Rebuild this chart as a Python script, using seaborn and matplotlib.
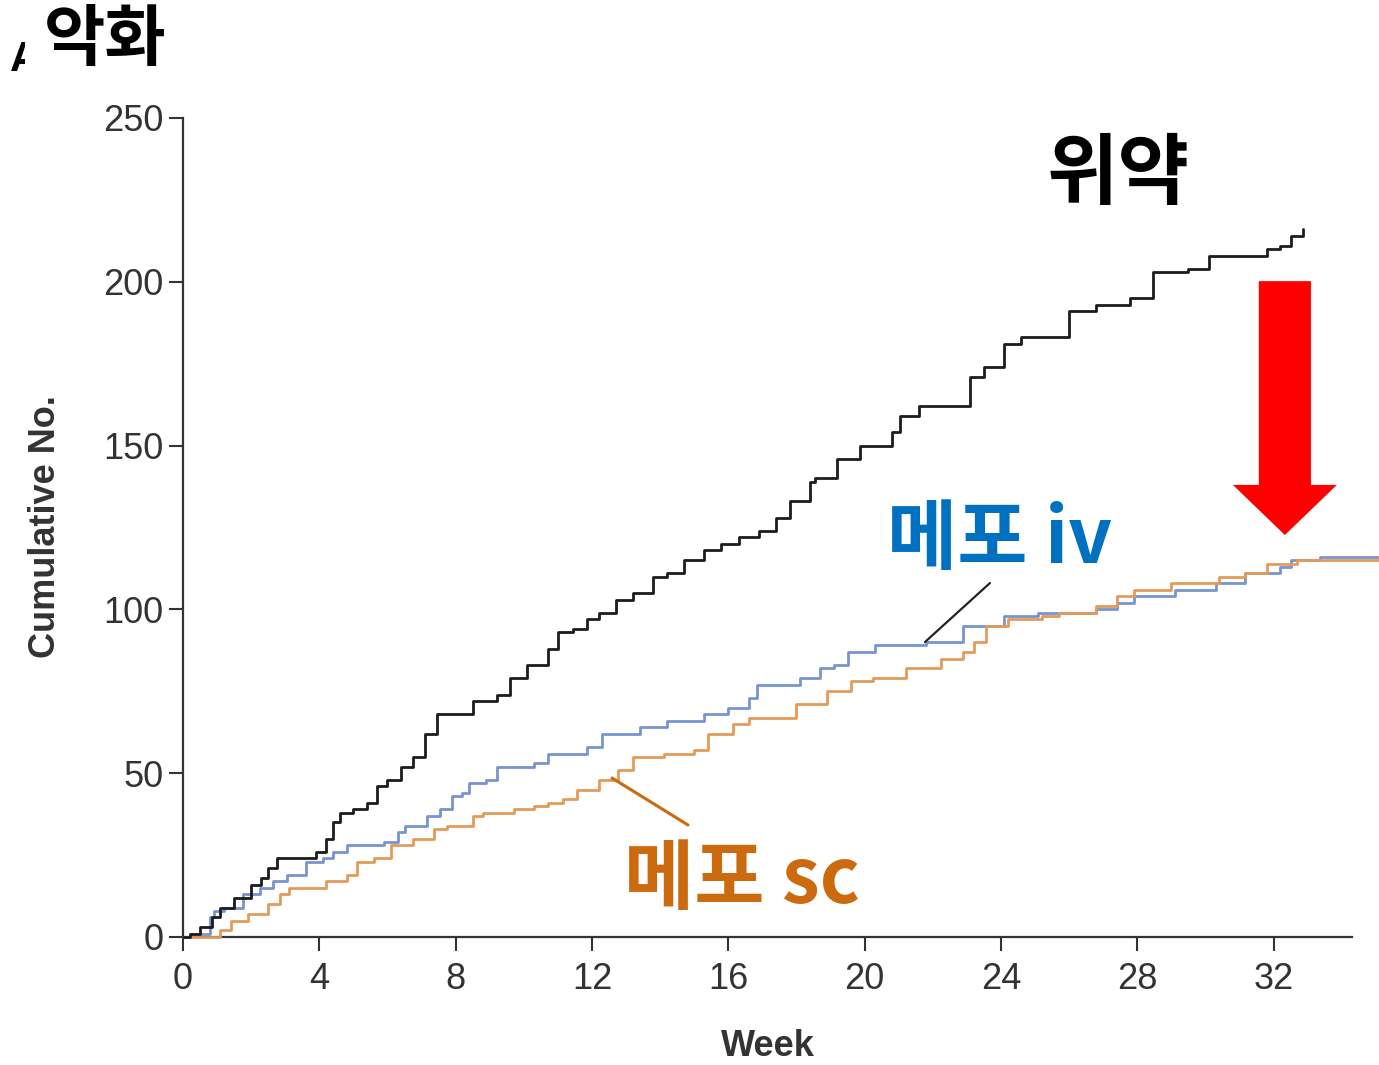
import numpy as np
import pandas as pd
import matplotlib
matplotlib.use("Agg")
import matplotlib.pyplot as plt
import seaborn as sns
from matplotlib import font_manager as fm
from matplotlib.patches import Rectangle, FancyArrow
from matplotlib.lines import Line2D

# ---------------- data ----------------
black_week = [0, 0.2, 0.5, 0.85, 1.1, 1.5, 1.7, 2.0, 2.3, 2.5, 2.75, 3.6, 3.9, 4.2, 4.4, 4.6, 5.0, 5.4, 5.7, 6.0,
              6.4, 6.75, 7.1, 7.45, 8.1, 8.5, 9.2, 9.6, 10.1, 10.7, 11.0, 11.45, 11.85, 12.2, 12.7, 13.2, 13.8, 14.2,
              14.7, 15.3, 15.8, 16.3, 16.9, 17.4, 17.8, 18.4, 18.55, 19.2, 19.85, 20.8, 21.05, 21.6, 22.2, 23.1, 23.5,
              24.1, 24.6, 25.3, 26.0, 26.8, 27.8, 28.45, 29.5, 30.1, 31.8, 32.2, 32.5, 32.85]
black_n = [0, 1, 3, 6, 9, 12, 12, 16, 18, 21, 24, 24, 26, 30, 35, 38, 39, 41, 46, 48,
           52, 55, 62, 68, 68, 72, 74, 79, 83, 88, 93, 94, 97, 99, 103, 105, 110, 111,
           115, 118, 120, 122, 124, 128, 133, 139, 140, 146, 150, 154, 159, 162, 162, 171, 174,
           181, 183, 183, 191, 193, 195, 203, 204, 208, 210, 211, 214, 216]

blue_week = [0, 0.2, 0.8, 0.9, 1.2, 1.75, 2.26, 2.65, 3.05, 3.6, 4.1, 4.4, 4.8, 5.9, 6.3, 6.5, 7.15, 7.55, 7.9, 8.2,
             8.4, 8.9, 9.2, 10.3, 10.7, 11.85, 12.3, 13.4, 14.2, 15.3, 16.0, 16.6, 16.85, 18.1, 18.7, 19.1, 19.5,
             20.3, 21.8, 22.9, 24.1, 25.1, 26.8, 27.4, 27.9, 29.1, 30.3, 31.15, 32.2, 32.5, 33.35, 35.1]
blue_n = [0, 1, 6, 8, 9, 13, 15, 17, 19, 23, 24, 26, 28, 29, 32, 34, 37, 39, 43, 44,
          47, 48, 52, 53, 56, 58, 62, 64, 66, 68, 70, 73, 77, 79, 82, 83, 87,
          89, 90, 95, 98, 99, 100, 102, 104, 106, 108, 111, 113, 115, 116, 116]

orange_week = [0, 0.9, 1.1, 1.4, 1.9, 2.5, 2.85, 3.1, 3.9, 4.2, 4.8, 5.1, 5.6, 6.1, 6.75, 7.35, 7.75, 8.5, 8.8, 9.7,
               10.3, 10.7, 11.15, 11.55, 12.2, 12.75, 13.2, 14.1, 15.0, 15.4, 16.15, 16.6, 18.0, 18.9, 19.6, 20.25,
               21.2, 22.25, 22.9, 23.2, 23.55, 24.2, 25.2, 25.7, 26.8, 27.4, 27.9, 29.0, 30.4, 31.15, 31.8, 32.7, 35.1]
orange_n = [0, 0, 2, 5, 7, 10, 13, 15, 15, 17, 19, 23, 24, 28, 30, 33, 34, 37, 38, 39,
            40, 41, 42, 45, 48, 51, 55, 56, 57, 62, 65, 67, 71, 75, 78, 79,
            82, 85, 87, 90, 95, 97, 98, 99, 101, 104, 106, 108, 110, 111, 114, 115, 116]

x_ticks = [0, 4, 8, 12, 16, 20, 24, 28, 32]
y_ticks = [0, 50, 100, 150, 200, 250]

# ---------------- style ----------------
sns.set_theme(style="white")
names = {f.name for f in fm.fontManager.ttflist}
narrow = "Liberation Sans Narrow" if "Liberation Sans Narrow" in names else "Liberation Sans"
KR = ["Noto Sans CJK KR", "DejaVu Sans"]
plt.rcParams["font.family"] = [narrow, "DejaVu Sans"]

W, H = 1379, 1065
fig = plt.figure(figsize=(W / 100, H / 100), dpi=100)
fig.patch.set_facecolor("white")

def fx(px):
    return px / W

def fy(py):
    return 1 - py / H

ax = fig.add_axes([fx(183), fy(937), fx(1352) - fx(183), fy(118) - fy(937)])
ax.set_facecolor("white")

c_black = "#1c1c1c"
c_blue = "#7894d0"
c_orange = "#e49a58"

for wk, n, col, z in [(blue_week, blue_n, c_blue, 3), (orange_week, orange_n, c_orange, 4),
                      (black_week, black_n, c_black, 5)]:
    sns.lineplot(x=wk, y=n, ax=ax, color=col, linewidth=2.0, drawstyle="steps-post",
                 estimator=None, sort=False, zorder=z, clip_on=False)

ax.set_xlim(0, 34.3)
ax.set_ylim(0, 250)
ax.set_xticks(x_ticks)
ax.set_yticks(y_ticks)
ax.set_xticklabels([str(v) for v in x_ticks])
ax.set_yticklabels([str(v) for v in y_ticks])
for s in ["top", "right"]:
    ax.spines[s].set_visible(False)
for s in ["left", "bottom"]:
    ax.spines[s].set_color("#333333")
    ax.spines[s].set_linewidth(1.6)
ax.tick_params(axis="both", which="major", direction="out", length=10, width=1.5,
               color="#333333", labelcolor="#333333", labelsize=26, left=True, bottom=True)
ax.tick_params(axis="x", pad=8)
ax.tick_params(axis="y", pad=4)
ax.grid(False)
ax.set_xlabel("")
ax.set_ylabel("")

fig.text(fx(46), fy(527), "Cumulative No.", rotation=90, ha="center", va="center",
         fontsize=26, fontweight="bold", color="#333333")
fig.text(fx(768), fy(1047), "Week", ha="center", va="center",
         fontsize=26, fontweight="bold", color="#333333")

# panel letter fragment (mostly hidden) and title
fig.text(fx(10), fy(60), "A", ha="left", va="center", fontsize=30, fontweight="bold",
         color="black", zorder=1)
fig.patches.append(Rectangle((fx(25), fy(100)), fx(200), 100 / H, transform=fig.transFigure,
                             facecolor="white", edgecolor="none", zorder=2))
fig.text(fx(105), fy(40), "악화", ha="center", va="center", fontsize=48, fontweight="bold",
         color="black", family=KR, zorder=3)

# 위약 label
ax.text(fx(1118), fy(175), "위약", transform=fig.transFigure, ha="center", va="center",
        fontsize=56, fontweight="bold", color="black", family=KR, zorder=10, clip_on=False)

# 메포 iv label with white box and leader line
ax.add_line(Line2D([fx(925), fx(990)], [fy(642), fy(583)], transform=fig.transFigure,
                   color="#222222", linewidth=1.6, zorder=6, clip_on=False))
ax.add_patch(Rectangle((fx(822), fy(582)), fx(348), 92 / H, transform=fig.transFigure,
                       facecolor="white", edgecolor="none", zorder=7, clip_on=False))
ax.text(fx(1000), fy(540), "메포 iv", transform=fig.transFigure, ha="center", va="center",
        fontsize=55, fontweight="bold", color="#0070c0", family=KR, zorder=8, clip_on=False)

# 메포 sc label with leader line
ax.add_line(Line2D([fx(612), fx(688)], [fy(778), fy(825)], transform=fig.transFigure,
                   color="#cc6a10", linewidth=2.2, zorder=6, clip_on=False))
ax.text(fx(742), fy(880), "메포 sc", transform=fig.transFigure, ha="center", va="center",
        fontsize=55, fontweight="bold", color="#cc6a10", family=KR, zorder=8, clip_on=False)

# red arrow (data coords)
ax.add_patch(FancyArrow(32.33, 200.2, 0, -77.5, width=1.53, head_width=3.05, head_length=15.3,
                        length_includes_head=True, facecolor="#ff0000", edgecolor="none",
                        zorder=9, clip_on=False))

fig.savefig("out.png", dpi=100, facecolor="white")
